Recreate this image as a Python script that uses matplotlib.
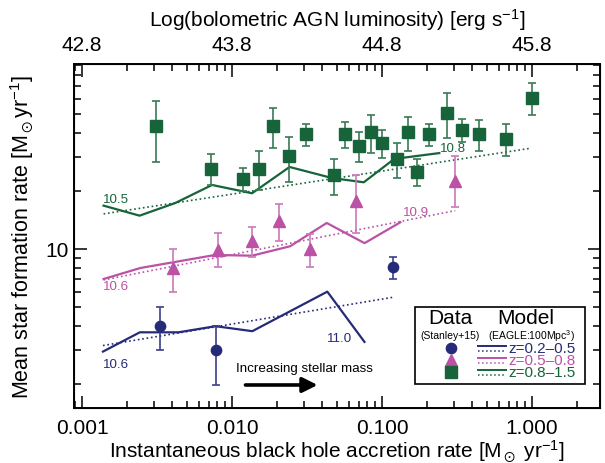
import matplotlib
matplotlib.use("Agg")
import matplotlib.pyplot as plt
import numpy as np
from matplotlib.ticker import FixedLocator, FixedFormatter, NullFormatter, LogLocator
from matplotlib.lines import Line2D
from matplotlib.patches import Rectangle

plt.rcParams['font.family'] = ['Liberation Sans', 'DejaVu Sans']
plt.rcParams['mathtext.fontset'] = 'custom'
plt.rcParams['mathtext.rm'] = 'Liberation Sans'
plt.rcParams['mathtext.it'] = 'Liberation Sans:italic'
plt.rcParams['mathtext.bf'] = 'Liberation Sans:bold'
plt.rcParams['mathtext.sf'] = 'Liberation Sans'
plt.rcParams['mathtext.fallback'] = 'stixsans'

# ---------------- data ----------------
# Stanley+15 data, z=0.2-0.5 (circles)
lo_x = [0.00329, 0.00777, 0.1184]
lo_y = [3.99, 3.0, 8.02]
lo_yhi = [4.99, 3.99, 9.04]
lo_ylo = [3.0, 1.98, 6.99]

# z=0.5-0.8 (triangles)
mid_x = [0.00402, 0.00804, 0.0136, 0.0207, 0.0329, 0.0674, 0.308]
mid_y = [7.97, 9.85, 11.04, 13.88, 9.96, 17.8, 22.6]
mid_yhi = [10.0, 12.06, 13.05, 17.11, 11.96, 24.3, 30.2]
mid_ylo = [6.01, 8.02, 9.12, 11.0, 8.04, 12.06, 16.6]

# z=0.8-1.5 (squares)
hi_x = [0.00313, 0.00728, 0.0119, 0.0152, 0.0188, 0.0241, 0.0313, 0.0481,
        0.0569, 0.0706, 0.0849, 0.1005, 0.1265, 0.1496, 0.1718, 0.2065,
        0.272, 0.343, 0.4454, 0.674, 1.005]
hi_y = [43.5, 26.0, 23.1, 26.0, 43.4, 30.2, 39.4, 24.2, 39.4, 34.3, 40.5,
        35.4, 29.3, 40.5, 25.2, 39.4, 50.7, 41.5, 39.4, 37.1, 60.6]
hi_yhi = [58.6, 31.1, 26.2, 32.3, 53.5, 38.2, 44.4, 29.3, 45.3, 40.5, 49.5,
          41.5, 35.3, 48.5, 29.3, 44.4, 64.1, 47.2, 46.6, 44.4, 72.2]
hi_ylo = [28.3, 21.5, 20.0, 20.3, 33.2, 22.2, 34.3, 19.1, 33.2, 28.3, 31.3,
          29.5, 23.2, 32.3, 21.1, 34.3, 37.5, 35.7, 32.3, 30.4, 49.5]

# EAGLE model curves
mod_lo_x = [0.00138, 0.00243, 0.00440, 0.00777, 0.01366, 0.0432, 0.0764]
mod_lo_y = [2.94, 3.70, 3.70, 3.98, 3.75, 6.01, 3.30]
mod_mid_x = [0.001393, 0.00245, 0.00430, 0.00771, 0.0136, 0.0244, 0.0428, 0.0765, 0.1325]
mod_mid_y = [6.99, 7.97, 8.60, 9.31, 9.23, 10.33, 13.64, 10.72, 13.75]
mod_hi_x = [0.001393, 0.00242, 0.00419, 0.00736, 0.0136, 0.0242, 0.0466, 0.0756, 0.1208, 0.241]
mod_hi_y = [16.77, 14.88, 17.31, 21.46, 19.44, 26.6, 23.3, 22.16, 29.3, 31.4]

# power-law fits (dotted), end points
fit_lo_x = [0.00138, 0.1184]
fit_lo_y = [3.16, 5.62]
fit_mid_x = [0.001393, 0.308]
fit_mid_y = [6.91, 15.8]
fit_hi_x = [0.001393, 0.964]
fit_hi_y = [15.2, 33.2]

# stellar-mass annotations: (text, x, y)
mass_lo = [("10.6", 0.00139, 2.54), ("11.0", 0.043, 3.45)]
mass_mid = [("10.6", 0.00139, 6.41), ("10.9", 0.138, 15.5)]
mass_hi = [("10.5", 0.00139, 18.2), ("10.8", 0.245, 33.2)]

xticks = [0.001, 0.01, 0.1, 1.0]
xticklabels = ["0.001", "0.010", "0.100", "1.000"]
topticklabels = ["42.8", "43.8", "44.8", "45.8"]
yticks = [10]
yticklabels = ["10"]

c_lo = '#262b78'
c_mid = '#bb52a5'
c_hi = '#17643a'
e_lo = '#3a3f8a'
e_mid = '#cc78bb'
e_hi = '#3a7a55'

# ---------------- figure ----------------
fig = plt.figure(figsize=(6.05, 4.64), dpi=100)
W, H = 605, 464
L, R, T, B = 74, 600, 65, 409
ax = fig.add_axes([L / W, 1 - B / H, (R - L) / W, (B - T) / H])
ax.set_xscale('log')
ax.set_yscale('log')
ax.set_xlim(10 ** -3.0533, 10 ** 0.4533)
ax.set_ylim(10 ** 0.176, 10 ** 1.9585)

def errs(y, yhi, ylo):
    y = np.array(y); return [y - np.array(ylo), np.array(yhi) - y]

ax.errorbar(lo_x, lo_y, yerr=errs(lo_y, lo_yhi, lo_ylo), fmt='o', ms=7.4,
            color=c_lo, ecolor=e_lo, elinewidth=1.2, capsize=2.6, capthick=1.2, zorder=5)
ax.errorbar(mid_x, mid_y, yerr=errs(mid_y, mid_yhi, mid_ylo), fmt='^', ms=8.2,
            color=c_mid, ecolor=e_mid, elinewidth=1.2, capsize=2.6, capthick=1.2, zorder=5)
ax.errorbar(hi_x, hi_y, yerr=errs(hi_y, hi_yhi, hi_ylo), fmt='s', ms=8.4,
            color=c_hi, ecolor=e_hi, elinewidth=1.2, capsize=2.6, capthick=1.2, zorder=5)

for mx, my, fx_, fy_, c in [(mod_lo_x, mod_lo_y, fit_lo_x, fit_lo_y, c_lo),
                            (mod_mid_x, mod_mid_y, fit_mid_x, fit_mid_y, c_mid),
                            (mod_hi_x, mod_hi_y, fit_hi_x, fit_hi_y, c_hi)]:
    ax.plot(mx, my, '-', color=c, lw=1.6, zorder=3)
    ax.plot(fx_, fy_, ':', color=c, lw=1.2, zorder=3)

for lst, c in [(mass_lo, c_lo), (mass_mid, c_mid), (mass_hi, c_hi)]:
    for t, x, y in lst:
        ax.text(x, y, t, color=c, fontsize=9.6, ha='left', va='center', zorder=4)

# axes ticks
ax.xaxis.set_major_locator(FixedLocator(xticks))
ax.xaxis.set_major_formatter(FixedFormatter(xticklabels))
ax.xaxis.set_minor_locator(LogLocator(base=10, subs=np.arange(2, 10)))
ax.xaxis.set_minor_formatter(NullFormatter())
ax.yaxis.set_major_locator(FixedLocator(yticks))
ax.yaxis.set_major_formatter(FixedFormatter(yticklabels))
ax.yaxis.set_minor_locator(LogLocator(base=10, subs=np.arange(2, 10)))
ax.yaxis.set_minor_formatter(NullFormatter())
ax.tick_params(which='both', direction='in', right=True, top=False, labelsize=15, width=1.1)
ax.tick_params(which='major', length=9)
ax.tick_params(which='minor', length=5)
ax.tick_params(axis='x', pad=7)
for s in ax.spines.values():
    s.set_linewidth(1.4)

ax2 = ax.twiny()
ax2.set_xscale('log')
ax2.set_xlim(ax.get_xlim())
ax2.xaxis.set_major_locator(FixedLocator(xticks))
ax2.xaxis.set_major_formatter(FixedFormatter(topticklabels))
ax2.xaxis.set_minor_locator(LogLocator(base=10, subs=np.arange(2, 10)))
ax2.xaxis.set_minor_formatter(NullFormatter())
ax2.tick_params(which='both', direction='in', labelsize=15, width=1.1, pad=7)
ax2.tick_params(which='major', length=9)
ax2.tick_params(which='minor', length=5)

ax.set_xlabel(r"Instantaneous black hole accretion rate [M$_\odot$ yr$^{-1}$]", fontsize=15, labelpad=0)
ax.set_ylabel(r"Mean star formation rate [M$_\odot$yr$^{-1}$]", fontsize=15.5, labelpad=7)
ax2.set_xlabel(r"Log(bolometric AGN luminosity) [erg s$^{-1}$]", fontsize=15, labelpad=7)

# arrow annotation
ax.annotate("", xy=(0.4684, 0.0669), xytext=(0.3207, 0.0669), xycoords='axes fraction',
            arrowprops=dict(arrowstyle='-|>,head_length=0.9,head_width=0.45', color='black', lw=2.6))
ax.text(0.438, 0.1154, "Increasing stellar mass", transform=ax.transAxes, fontsize=9.6,
        ha='center', va='center')

# legend (manual)
def fx(px): return (px - L) / (R - L)
def fy(py): return (B - py) / (B - T)

ax.add_patch(Rectangle((fx(415), fy(385)), fx(585) - fx(415), fy(308) - fy(385),
                       transform=ax.transAxes, fill=True, facecolor='white',
                       edgecolor='black', lw=1.2, zorder=6))
ax.text(fx(450), fy(318.5), "Data", transform=ax.transAxes, fontsize=15, ha='center', va='center', zorder=7)
ax.text(fx(526), fy(318.5), "Model", transform=ax.transAxes, fontsize=15, ha='center', va='center', zorder=7)
ax.text(fx(450), fy(336), "(Stanley+15)", transform=ax.transAxes, fontsize=7.5, ha='center', va='center', zorder=7)
ax.text(fx(531.5), fy(336), r"(EAGLE:100Mpc$^3$)", transform=ax.transAxes, fontsize=7.5, ha='center', va='center', zorder=7)
rows = [349, 361, 373]
labels = ["z=0.2\u20130.5", "z=0.5\u20130.8", "z=0.8\u20131.5"]
markers = ['o', '^', 's']
msizes = [7.4, 8.2, 8.4]
cols = [c_lo, c_mid, c_hi]
for r, lab, m, ms, c in zip(rows, labels, markers, msizes, cols):
    ax.add_line(Line2D([fx(450.7)], [fy(r)], marker=m, ms=ms, color=c, ls='none',
                       transform=ax.transAxes, zorder=7))
    ax.add_line(Line2D([fx(478), fx(506)], [fy(r - 1.8)] * 2, color=c, lw=1.4,
                       transform=ax.transAxes, zorder=7))
    ax.add_line(Line2D([fx(478), fx(506)], [fy(r + 2.6)] * 2, color=c, lw=1.1, ls=':',
                       transform=ax.transAxes, zorder=7))
    ax.text(fx(508), fy(r), lab, color=c, transform=ax.transAxes, fontsize=11,
            ha='left', va='center', zorder=7)

fig.savefig("out.png", dpi=100)
